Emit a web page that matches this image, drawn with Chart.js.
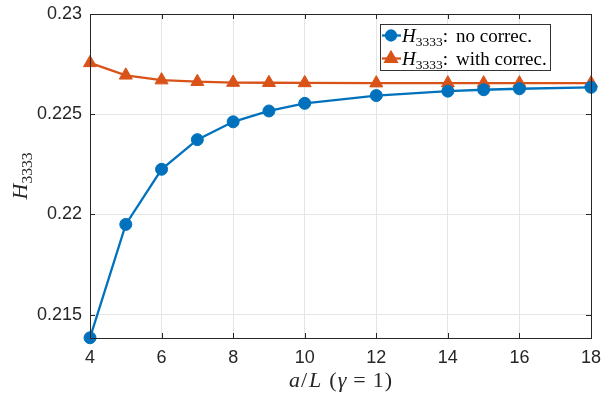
<!DOCTYPE html>
<html>
<head>
<meta charset="utf-8">
<script src="https://cdn.jsdelivr.net/npm/chart.js@4/dist/chart.umd.min.js"></script>
<style>body{margin:0;background:#fff}</style>
</head>
<body>
<canvas id="chart" width="614" height="401"></canvas>
<script>
const aOverL = [4, 5, 6, 7, 8, 9, 10, 12, 14, 15, 16, 18];
const hNoCorrec = [0.21384, 0.21950, 0.22225, 0.22373, 0.22462, 0.22516, 0.22554, 0.22593, 0.22615, 0.22622, 0.22627, 0.22634];
const hWithCorrec = [0.22756, 0.22694, 0.22670, 0.22662, 0.22658, 0.22657, 0.22656, 0.22655, 0.22655, 0.22655, 0.22655, 0.22655];
const xTicks = [4, 6, 8, 10, 12, 14, 16, 18];
const yTicks = [0.215, 0.22, 0.225, 0.23];

const blue = '#0072BD';
const orange = '#D95319';
const axisColor = '#262626';
const serif = '"Liberation Serif", serif';

// draw a row of text pieces (italic, subscript, gaps) one after the other
function drawRuns(ctx, runs, x, y, align) {
    const widthOf = r => {
        if (r.gap) return r.gap;
        ctx.font = r.font;
        return ctx.measureText(r.t).width;
    };
    let w = 0;
    runs.forEach(r => { w += widthOf(r); });
    let cx = align === 'center' ? x - w / 2 : x;
    runs.forEach(r => {
        if (!r.gap) {
            ctx.font = r.font;
            ctx.fillText(r.t, cx, y + (r.dy || 0));
        }
        cx += widthOf(r);
    });
}

const framePlugin = {
    id: 'frame',
    afterDraw(chart) {
        const { ctx, chartArea: a, scales: { x, y } } = chart;
        ctx.save();

        // box and inward ticks
        ctx.strokeStyle = axisColor;
        ctx.lineWidth = 1;
        ctx.strokeRect(a.left + 0.5, a.top + 0.5, a.right - a.left, a.bottom - a.top);
        ctx.beginPath();
        xTicks.forEach(v => {
            const px = Math.round(x.getPixelForValue(v)) + 0.5;
            ctx.moveTo(px, a.bottom); ctx.lineTo(px, a.bottom - 5);
            ctx.moveTo(px, a.top); ctx.lineTo(px, a.top + 5);
        });
        yTicks.forEach(v => {
            const py = Math.round(y.getPixelForValue(v)) + 0.5;
            ctx.moveTo(a.left, py); ctx.lineTo(a.left + 5, py);
            ctx.moveTo(a.right, py); ctx.lineTo(a.right - 5, py);
        });
        ctx.stroke();

        // legend
        const lx = a.right - 211, ly = a.top + 10, lw = 170, lh = 46;
        ctx.fillStyle = '#fff';
        ctx.fillRect(lx, ly, lw, lh);
        ctx.strokeStyle = '#333';
        ctx.strokeRect(lx + 0.5, ly + 0.5, lw, lh);
        const rows = [
            { color: blue, style: 'circle', r: 5, label: 'no correc.' },
            { color: orange, style: 'triangle', r: 6.5, label: 'with correc.' }
        ];
        rows.forEach((row, i) => {
            const cy = ly + 11.5 + i * 23;
            ctx.strokeStyle = row.color;
            ctx.lineWidth = 2.3;
            ctx.beginPath();
            ctx.moveTo(lx + 2, cy); ctx.lineTo(lx + 21, cy);
            ctx.stroke();
            ctx.fillStyle = row.color;
            Chart.helpers.drawPoint(ctx, { pointStyle: row.style, radius: row.r, borderWidth: 1 }, lx + 11, cy);
            ctx.fill();
            ctx.fillStyle = '#000';
            ctx.textBaseline = 'alphabetic';
            drawRuns(ctx, [
                { t: 'H', font: 'italic 19px ' + serif },
                { t: '3333', font: '13.5px ' + serif, dy: 4 },
                { t: ':', font: '19px ' + serif },
                { gap: 8 },
                { t: row.label, font: '19px ' + serif }
            ], lx + 22, cy + 6, 'left');
        });

        // axis titles
        ctx.fillStyle = '#262626';
        ctx.textBaseline = 'alphabetic';
        const f = '22px ' + serif, fi = 'italic 22px ' + serif;
        drawRuns(ctx, [
            { t: 'a', font: fi }, { gap: 1 },
            { t: '/', font: f }, { gap: 2 },
            { t: 'L', font: fi }, { gap: 8 },
            { t: '(', font: f }, { gap: 1 },
            { t: 'γ', font: fi }, { gap: 7 },
            { t: '=', font: f }, { gap: 7 },
            { t: '1', font: f }, { gap: 1 },
            { t: ')', font: f }
        ], (a.left + a.right) / 2, 387, 'center');

        ctx.translate(27, (a.top + a.bottom) / 2);
        ctx.rotate(-Math.PI / 2);
        drawRuns(ctx, [
            { t: 'H', font: 'italic 22px ' + serif },
            { t: '3333', font: '15.5px ' + serif, dy: 5 }
        ], 0, 0, 'center');
        ctx.restore();
    }
};

new Chart(document.getElementById('chart'), {
    type: 'line',
    data: {
        datasets: [
            {
                label: 'no correc.',
                data: aOverL.map((v, i) => ({ x: v, y: hNoCorrec[i] })),
                borderColor: blue,
                backgroundColor: blue,
                borderWidth: 2.3,
                pointStyle: 'circle',
                pointRadius: 6,
                pointBorderWidth: 1,
                clip: false
            },
            {
                label: 'with correc.',
                data: aOverL.map((v, i) => ({ x: v, y: hWithCorrec[i] })),
                borderColor: orange,
                backgroundColor: orange,
                borderWidth: 2.3,
                pointStyle: 'triangle',
                pointRadius: 7.5,
                pointBorderWidth: 1,
                clip: false
            }
        ]
    },
    options: {
        responsive: false,
        animation: false,
        layout: { padding: { left: 0, right: 23, top: 14, bottom: 0 } },
        plugins: { legend: { display: false }, tooltip: { enabled: false } },
        scales: {
            x: {
                type: 'linear',
                min: 4,
                max: 18,
                afterBuildTicks: s => { s.ticks = xTicks.map(v => ({ value: v })); },
                afterFit: s => { s.height = 63; s.paddingLeft = 0; s.paddingRight = 0; },
                grid: { color: '#e5e5e5', drawTicks: false },
                border: { display: false },
                ticks: { font: { family: 'Liberation Sans', size: 18 }, color: axisColor, padding: 9, maxRotation: 0 }
            },
            y: {
                min: 0.21383,
                max: 0.23,
                afterBuildTicks: s => { s.ticks = yTicks.map(v => ({ value: v })); },
                afterFit: s => { s.width = 90; s.paddingTop = 0; s.paddingBottom = 0; },
                grid: { color: '#e5e5e5', drawTicks: false },
                border: { display: false },
                ticks: {
                    font: { family: 'Liberation Sans', size: 18 },
                    color: axisColor,
                    padding: 8,
                    callback: v => String(+v.toFixed(4))
                }
            }
        }
    },
    plugins: [framePlugin]
});
</script>
</body>
</html>
